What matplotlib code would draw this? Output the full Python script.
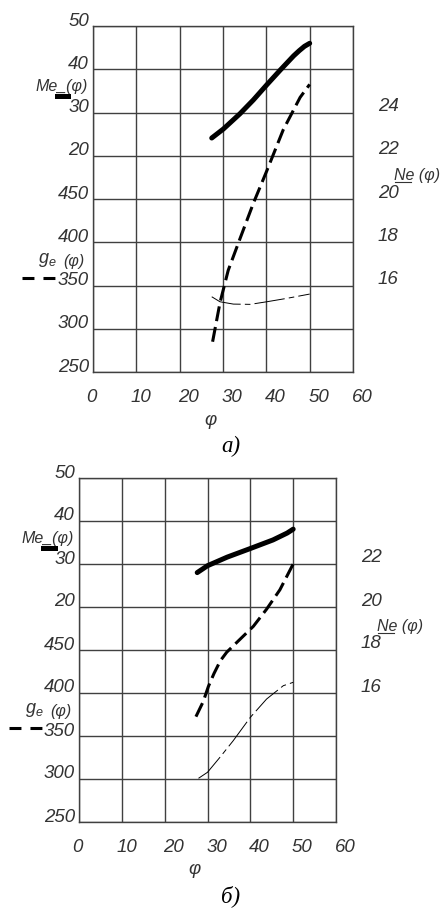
import matplotlib
matplotlib.use("Agg")
import matplotlib.pyplot as plt
from matplotlib.transforms import offset_copy

plt.rcParams['lines.scale_dashes'] = False
plt.rcParams['mathtext.fontset'] = 'custom'
plt.rcParams['mathtext.it'] = 'Liberation Sans:italic'
plt.rcParams['mathtext.rm'] = 'Liberation Sans:italic'

phi_ticks = [0, 10, 20, 30, 40, 50, 60]
me_ticks = [50, 40, 30, 20]
ge_ticks = [450, 400, 350, 300, 250]

# panel a)
a_ne_ticks = [24, 22, 20, 18, 16]
a_me_phi = [27.4, 30.1, 33.9, 37.0, 40.1, 43.2, 46.3, 47.6, 48.8, 50.0]
a_me = [24.1, 26.2, 29.7, 32.9, 36.4, 39.8, 43.1, 44.3, 45.3, 46.0]
a_ne_phi = [27.6, 29.3, 31.2, 33.8, 37.0, 40.1, 43.9, 47.8, 50.0]
a_ne = [13.4, 15.2, 16.7, 18.1, 19.8, 21.3, 23.2, 24.7, 25.3]
a_ge_phi = [27.4, 29.3, 32.4, 36.3, 40.1, 44.7, 50.0]
a_ge = [337.0, 331.2, 328.5, 328.2, 331.2, 335.1, 340.1]

# panel б)
b_ne_ticks = [22, 20, 18, 16]
b_me_phi = [27.6, 30.0, 34.6, 40.0, 45.3, 48.6, 50.0]
b_me = [28.0, 29.6, 31.6, 33.6, 35.6, 37.2, 38.1]
b_ne_phi = [27.3, 29.0, 30.2, 31.5, 33.0, 34.5, 37.6, 40.7, 43.8, 46.9, 50.0]
b_ne = [14.9, 15.6, 16.3, 16.9, 17.5, 17.9, 18.5, 19.1, 19.9, 20.8, 22.0]
b_ge_phi = [27.9, 30.0, 32.9, 36.0, 40.0, 43.8, 47.7, 50.0]
b_ge = [300.8, 307.8, 325.2, 344.5, 371.7, 393.0, 408.5, 412.4]

TICK = dict(family=['Liberation Sans', 'DejaVu Sans'], style='italic', fontsize=13.5, color='#333333')
NAME = dict(family=['Liberation Sans', 'DejaVu Sans'], style='italic', fontsize=11.5, color='#333333')
GRID = '#404040'

fig = plt.figure(figsize=(4.4, 9.08), dpi=100)


def shifted(trans, dx, dy):
    return offset_copy(trans, fig=fig, x=dx, y=dy, units='dots')


def panel(rect, ne_lim, ne_ticks, me_phi, me, ne_phi, ne, ge_phi, ge, ne_label_at, caption):
    ax = fig.add_axes(rect)
    ax.set_xlim(0, 60)
    ax.set_ylim(-30, 50)
    ax.set_xticks(phi_ticks)
    ax.set_yticks(range(-30, 51, 10))
    ax.tick_params(length=0, labelbottom=False, labelleft=False)
    ax.grid(True, color=GRID, lw=1.0)
    for s in ax.spines.values():
        s.set_color(GRID)
        s.set_linewidth(1.0)

    ge_ax = ax.twinx()
    ge_ax.set_ylim(250, 650)
    ge_ax.axis('off')
    ne_ax = ax.twinx()
    ne_ax.set_ylim(*ne_lim)
    ne_ax.axis('off')

    # curves
    ax.plot(me_phi, me, color='k', lw=3.6, solid_capstyle='round', solid_joinstyle='round')
    ne_ax.plot(ne_phi, ne, color='k', lw=2.2, ls=(0, (10.8, 4.3)))
    ge_ax.plot(ge_phi, ge, color='k', lw=0.7, ls=(0, (22, 3, 4, 3)))

    # tick labels
    for v in me_ticks:
        ax.text(0, v, str(v), transform=shifted(ax.transData, -4, 5), ha='right', va='center', **TICK)
    for v in ge_ticks:
        ge_ax.text(0, v, str(v), transform=shifted(ge_ax.transData, -4, 5), ha='right', va='center', **TICK)
    for v in ne_ticks:
        ne_ax.text(60, v, str(v), transform=shifted(ne_ax.transData, 25, 6), ha='left', va='center', **TICK)
    for v in phi_ticks:
        dx = 9 if v >= 20 else (5 if v == 10 else -2)
        ax.text(v, -30, str(v), transform=shifted(ax.transData, dx, -25), ha='center', va='center', **TICK)
    ax.text(27, -30, 'φ', transform=shifted(ax.transData, 0, -48), ha='center', va='center', **TICK)

    # curve names
    ax.text(-1.2, 35.9, 'Me_(φ)', ha='right', va='center', **NAME)
    ax.plot([-8.3, -5.7], [33.7, 33.7], color='k', lw=3.6, clip_on=False)
    ge_ax.text(-10.5, 380, '$g_e$', ha='center', va='center', **dict(NAME, fontsize=13))
    ge_ax.text(-4.3, 378, '(φ)', ha='center', va='center', **NAME)
    ge_ax.plot([-16.4, -8.7], [359, 359], color='k', lw=2.2, ls=(0, (8.6, 6.5)), clip_on=False)
    ne_ax.text(60, ne_label_at, 'Ne (φ)', transform=shifted(ne_ax.transData, 41, 0),
               ha='left', va='center', **NAME)
    w = rect[2] * 440
    ne_ax.plot([1 + 42 / w, 1 + 58 / w], [ne_label_at, ne_label_at], color='#333333', lw=0.8,
               transform=shifted(ne_ax.get_yaxis_transform(), 0, -7), clip_on=False)

    fig.text(0.525, rect[1] - 74 / 908, caption, ha='center', va='center',
             family='Liberation Serif', style='italic', fontsize=16.5)


panel([93 / 440, 1 - 372 / 908, 260 / 440, 346 / 908], (12, 28), a_ne_ticks,
      a_me_phi, a_me, a_ne_phi, a_ne, a_ge_phi, a_ge, 21.1, 'а)')
panel([79 / 440, 1 - 822 / 908, 257 / 440, 344 / 908], (10, 26), b_ne_ticks,
      b_me_phi, b_me, b_ne_phi, b_ne, b_ge_phi, b_ge, 19.1, 'б)')

fig.savefig('out.png', dpi=100)
